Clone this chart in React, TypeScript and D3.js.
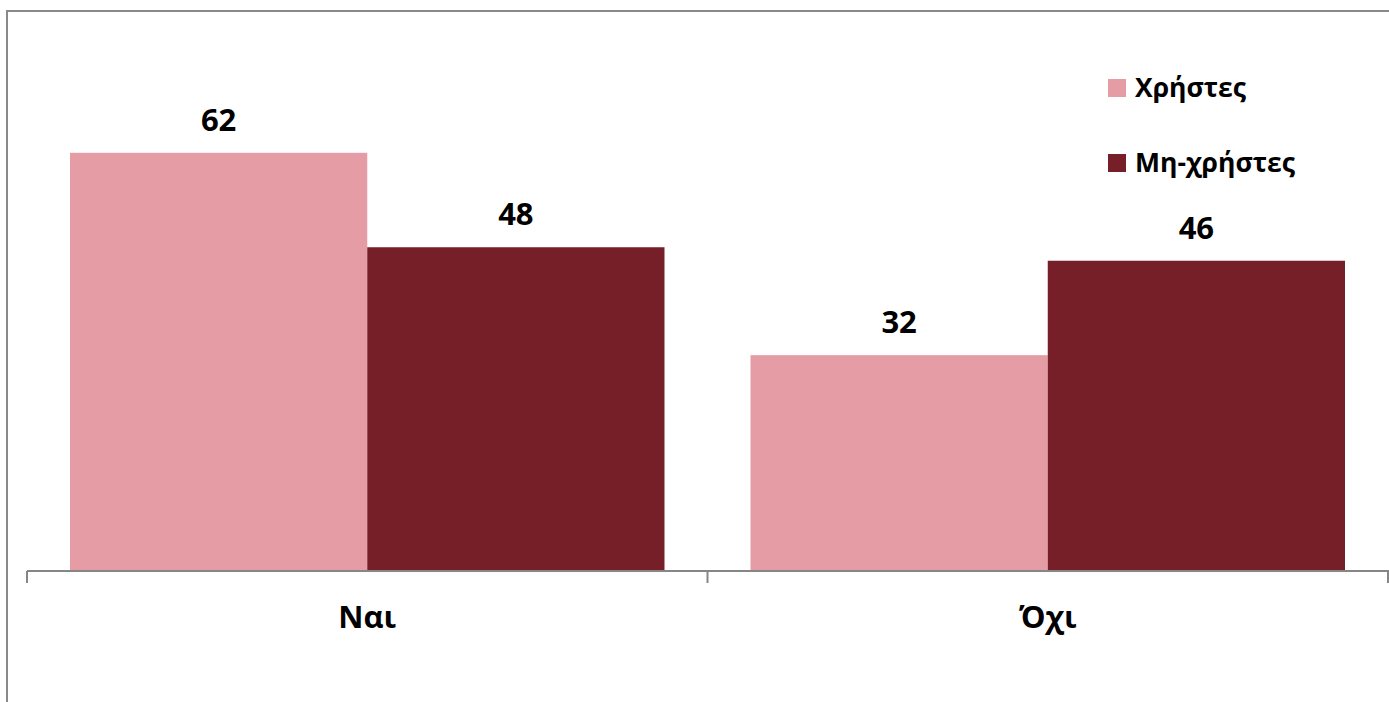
import React from 'react';
import * as d3 from 'd3';

const categories = ['Ναι', 'Όχι'];
const seriesNames = ['Χρήστες', 'Μη-χρήστες'];
const usersValues = [62, 32];
const nonUsersValues = [48, 46];
const seriesColors = ['#E59CA4', '#771F29'];

const W = 1389;
const H = 702;
const FONT = '"Open Sans", "DejaVu Sans", sans-serif';

export default function App() {
  const baseline = 571;
  const x0 = d3.scaleBand<string>().domain(categories).range([27, 1388]).padding(0);
  const gap = 43;
  const x1 = d3
    .scaleBand<string>()
    .domain(seriesNames)
    .range([gap, x0.bandwidth() - gap])
    .padding(0);
  const y = d3.scaleLinear().domain([0, 70]).range([baseline, baseline - 70 * 6.745]);

  const series = [usersValues, nonUsersValues];
  const tickXs = [...categories.map(c => x0(c) as number), x0.range()[1]];

  return (
    <svg
      width={W}
      height={H}
      style={{ position: 'absolute', left: 0, top: 0, display: 'block', background: '#fff' }}
    >
      {/* chart frame */}
      <rect x={7} y={11} width={W + 20} height={H + 20} fill="#fff" stroke="#898989" strokeWidth={2} />

      {/* bars */}
      {categories.map((cat, ci) => (
        <g key={cat} transform={`translate(${x0(cat)},0)`}>
          {seriesNames.map((s, si) => {
            const v = series[si][ci];
            return (
              <rect
                key={s}
                x={x1(s)}
                y={y(v)}
                width={x1.bandwidth()}
                height={baseline - y(v)}
                fill={seriesColors[si]}
              />
            );
          })}
          {seriesNames.map((s, si) => {
            const v = series[si][ci];
            return (
              <text
                key={s + '-lbl'}
                x={(x1(s) as number) + x1.bandwidth() / 2}
                y={y(v) - 22}
                textAnchor="middle"
                fontFamily={FONT}
                fontWeight="bold"
                fontSize={31}
                fill="#000"
              >
                {v}
              </text>
            );
          })}
        </g>
      ))}

      {/* x axis */}
      <line x1={27} x2={W + 5} y1={baseline} y2={baseline} stroke="#868686" strokeWidth={2} />
      {tickXs.map((tx, i) => (
        <line key={i} x1={tx} x2={tx} y1={baseline} y2={baseline + 12} stroke="#868686" strokeWidth={2} />
      ))}
      {categories.map(cat => (
        <text
          key={cat}
          x={(x0(cat) as number) + x0.bandwidth() / 2}
          y={628}
          textAnchor="middle"
          fontFamily={FONT}
          fontWeight="bold"
          fontSize={31}
          fill="#000"
        >
          {cat}
        </text>
      ))}

      {/* legend */}
      {seriesNames.map((s, i) => (
        <g key={s} transform={`translate(1108,${79 + i * 75})`}>
          <rect x={0} y={0} width={18} height={18} fill={seriesColors[i]} />
          <text x={27} y={18} fontFamily={FONT} fontWeight="bold" fontSize={26.5} fill="#000">
            {s}
          </text>
        </g>
      ))}
    </svg>
  );
}
